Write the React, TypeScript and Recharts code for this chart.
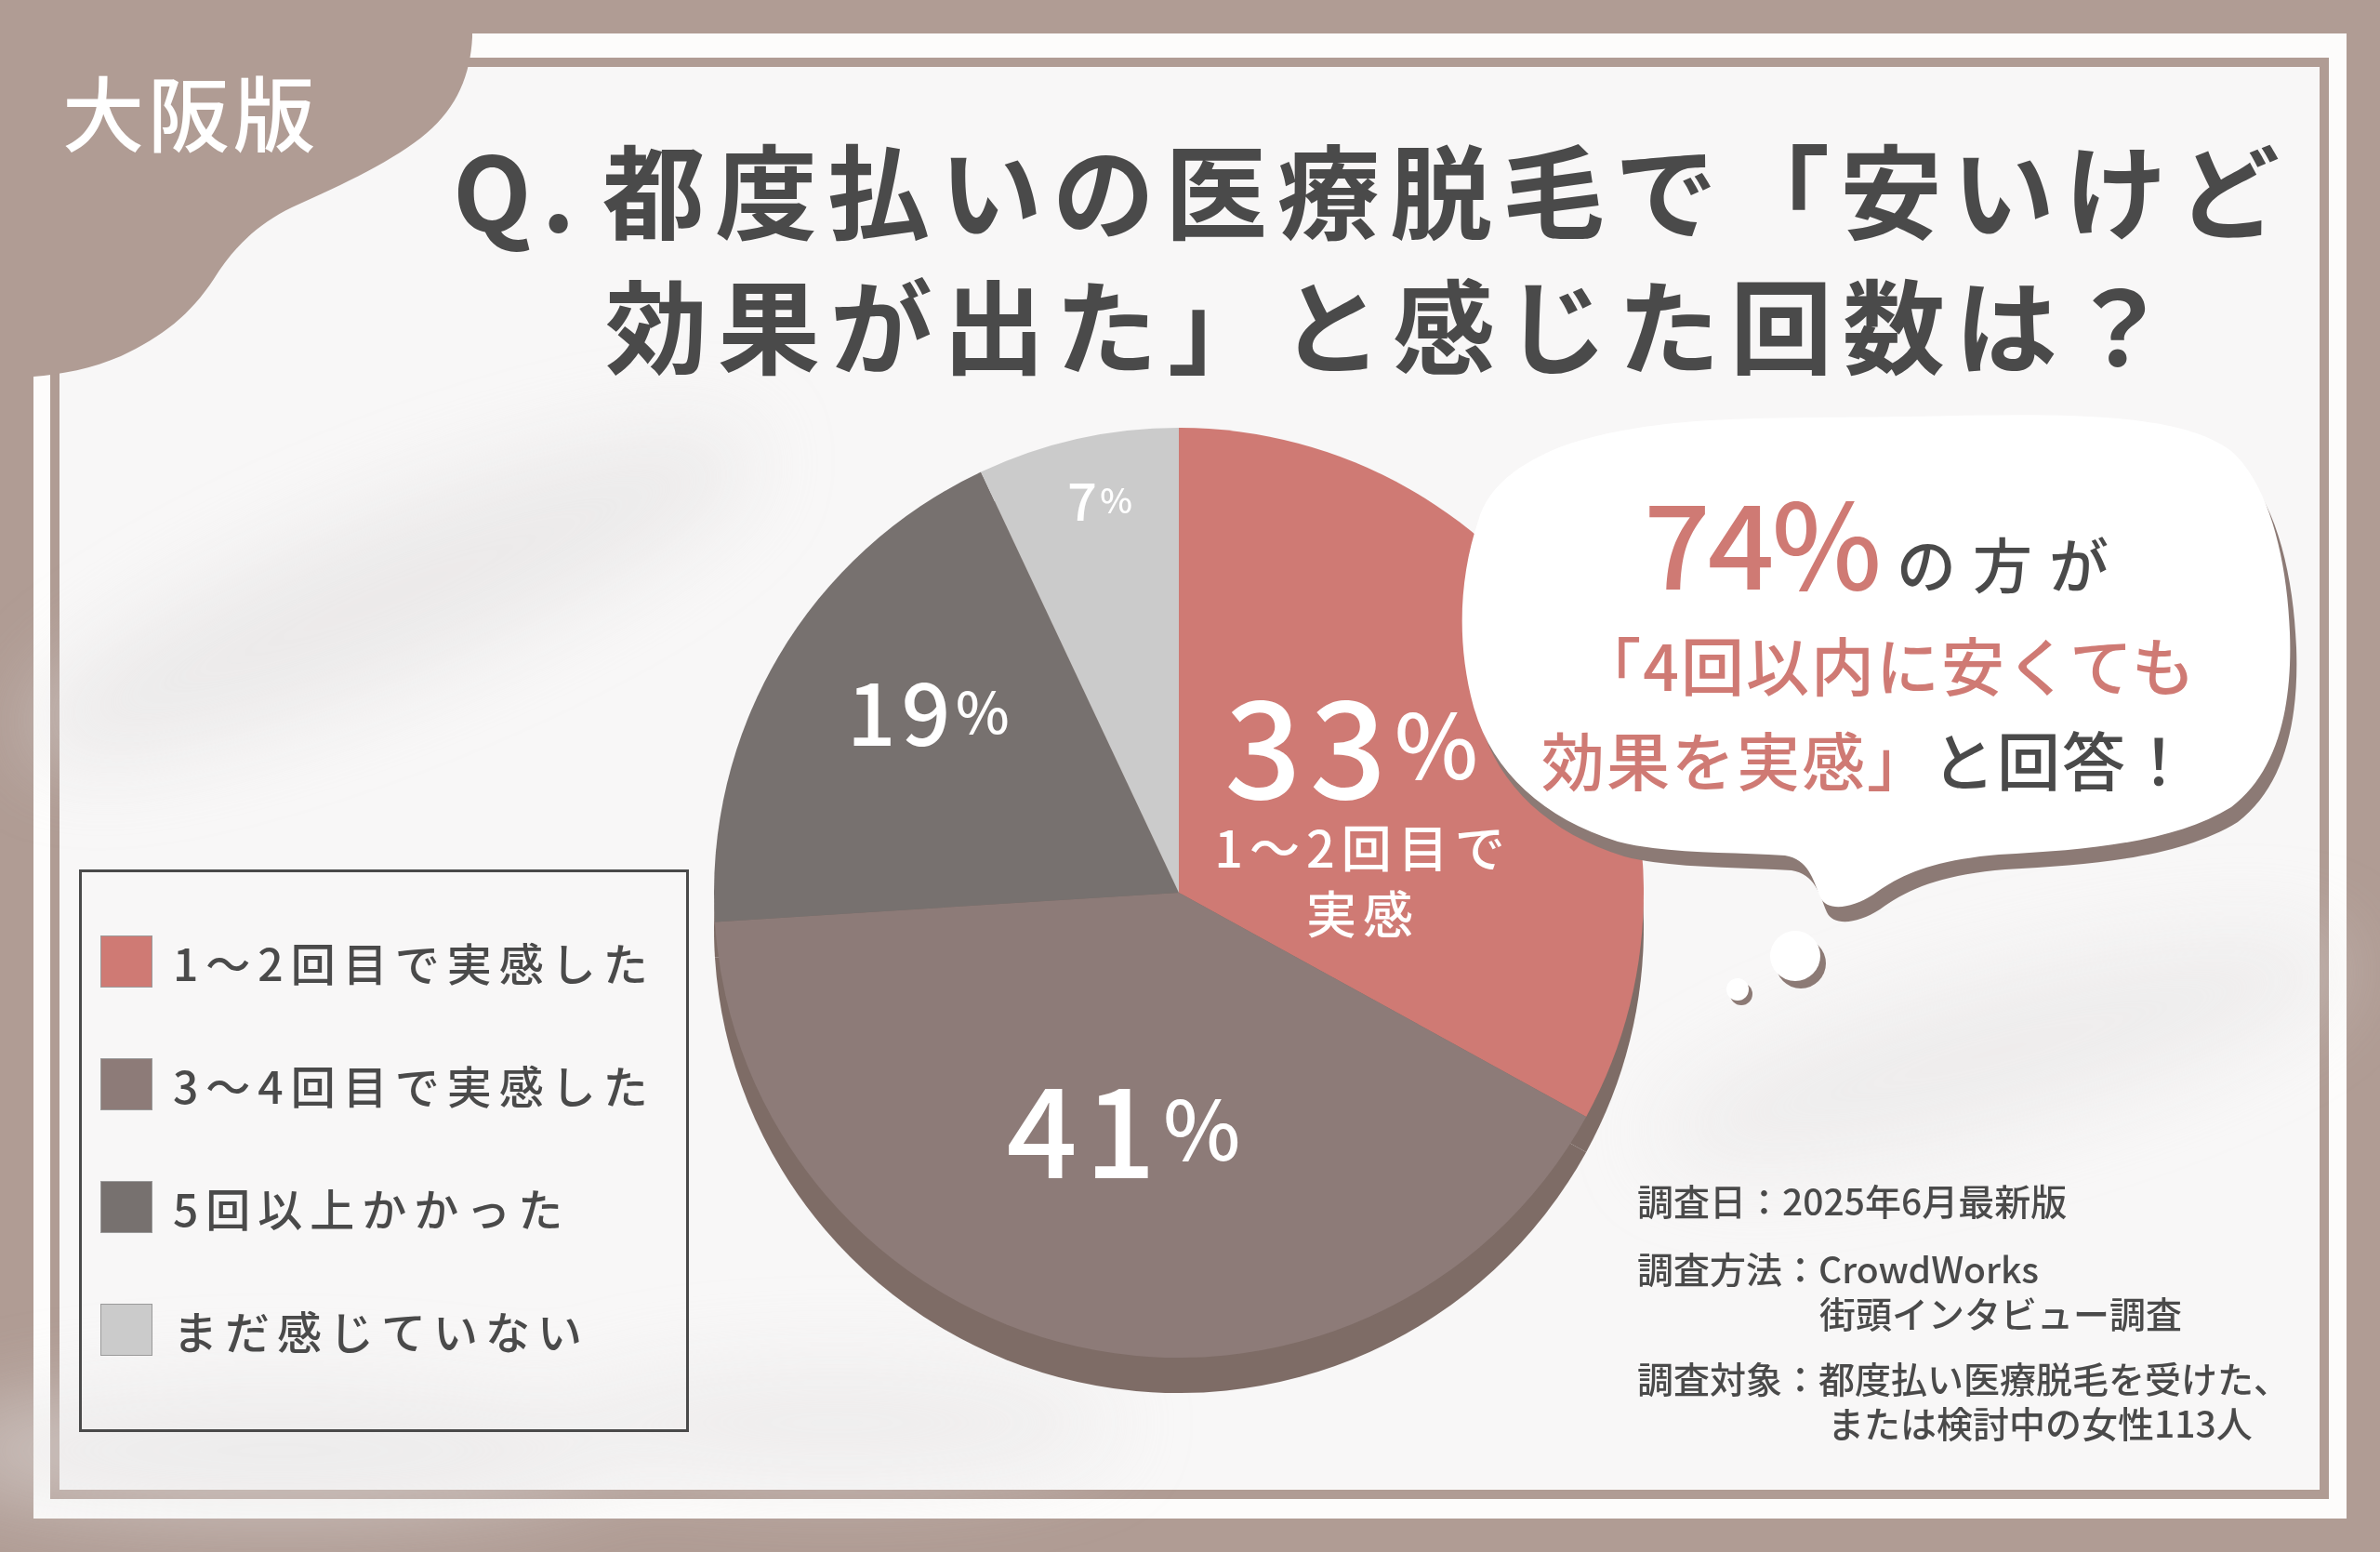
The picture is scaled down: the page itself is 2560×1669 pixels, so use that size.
import { PieChart, Pie, Cell, Legend } from "recharts";

// survey answers (share of respondents, %)
const categories = ["1～2回目で実感した", "3～4回目で実感した", "5回以上かかった", "まだ感じていない"];
const shares = [33, 41, 19, 7];
const sliceNotes = [["1～2回目で", "実感"], [], [], []];

const topColors = ["#CF7A74", "#8D7B78", "#77716F", "#CBCBCB"];
const SIDE = "#7E6C66";

// label placement / size per slice (style only)
const labelRadius = [0.46, 0.51, 0.665, 0.865];
const labelTurn = [0, 0, -6, -1.5];
const labelSize = [145, 134, 93, 56];

const pieData = categories.map((name, i) => ({ name, value: shares[i] }));

const FONT = '"Noto Sans CJK JP", "Noto Sans", sans-serif';
const BROWN = "#B09C94";
const INK = "#4A4A4A";
const SALMON = "#CF7A74";
const RAD = Math.PI / 180;

const renderLabel = (p: any) => {
  const { cx, cy, midAngle, outerRadius, index } = p;
  const r = outerRadius * labelRadius[index];
  const a = (midAngle + labelTurn[index]) * RAD;
  const x = cx + r * Math.cos(-a);
  const y = cy + r * Math.sin(-a);
  const size = labelSize[index];
  const notes = sliceNotes[index];
  const bigY = notes.length ? y - 47 : y;
  return (
    <g>
      <text
        x={x - (notes.length ? 8 : 0)}
        y={bigY}
        textAnchor="middle"
        dominantBaseline="central"
        fill="#FFFFFF"
        fontFamily={FONT}
        fontWeight={500}
        fontSize={size}
        letterSpacing={size * 0.06}
      >
        {shares[index]}
        <tspan fontSize={size * 0.66}>%</tspan>
      </text>
      {notes.map((line, k) => (
        <text
          key={line}
          x={x}
          y={y + 67 + k * 71}
          textAnchor="middle"
          dominantBaseline="central"
          fill="#FFFFFF"
          fontFamily={FONT}
          fontWeight={500}
          fontSize={54}
          letterSpacing={7}
        >
          {line}
        </text>
      ))}
    </g>
  );
};

const renderLegend = (props: any) => {
  const { payload = [] } = props;
  const seen = new Set<string>();
  const items = payload.filter((e: any) => {
    if (seen.has(e.value)) return false;
    seen.add(e.value);
    return true;
  });
  return (
    <div
      style={{
        width: 656,
        height: 605,
        boxSizing: "border-box",
        border: `3px solid ${INK}`,
        paddingTop: 30,
        paddingLeft: 20,
        fontFamily: FONT,
      }}
    >
      {items.map((entry: any) => {
        const i = categories.indexOf(entry.value);
        return (
          <div key={entry.value} style={{ display: "flex", alignItems: "center", height: 132 }}>
            <span
              style={{
                width: 56,
                height: 56,
                boxSizing: "border-box",
                border: "1px solid #9A9A9A",
                background: topColors[i],
                marginRight: 22,
              }}
            />
            <span style={{ fontSize: 48, letterSpacing: 8, color: INK, fontWeight: 500 }}>{entry.value}</span>
          </div>
        );
      })}
    </div>
  );
};

const bubblePath =
  "M 1590 560 C 1570 620, 1566 690, 1585 760 C 1605 830, 1660 880, 1740 905 " +
  "C 1790 918, 1860 916, 1920 920 C 1945 924, 1950 945, 1958 965 C 1965 980, 1990 978, 2015 962 " +
  "C 2045 940, 2080 925, 2150 919 C 2250 914, 2340 905, 2400 868 C 2450 830, 2466 760, 2463 680 " +
  "C 2460 600, 2440 520, 2400 485 C 2340 440, 2200 445, 2050 448 C 1900 450, 1780 445, 1680 480 " +
  "C 1630 500, 1600 525, 1590 560 Z";

const cornerPath =
  "M 0 0 H 508 V 40 C 506 80, 492 115, 459 143 C 425 172, 370 198, 314 223 " +
  "C 275 242, 250 268, 230 300 C 205 338, 175 362, 130 383 C 100 396, 65 403, 36 405 H 0 Z";

const footnotes = [
  { x: 1761, y: 1290, text: "調査日：2025年6月最新版" },
  { x: 1761, y: 1363, text: "調査方法：CrowdWorks" },
  { x: 1957, y: 1411, text: "街頭インタビュー調査" },
  { x: 1761, y: 1481, text: "調査対象：都度払い医療脱毛を受けた、" },
  { x: 1966, y: 1529, text: "または検討中の女性113人" },
];

function Backdrop() {
  return (
    <svg width={2560} height={1669} style={{ position: "absolute", left: 0, top: 0 }}>
      <defs>
        <filter id="soft" x="-50%" y="-50%" width="200%" height="200%">
          <feGaussianBlur stdDeviation="45" />
        </filter>
      </defs>
      <rect x={0} y={0} width={2560} height={1669} fill={BROWN} />
      <rect x={36} y={36} width={2488} height={1597} fill="#FDFCFB" />
      <rect x={59} y={67} width={2441} height={1540} fill="none" stroke={BROWN} strokeWidth={10} />
      <rect x={64} y={72} width={2431} height={1529} fill="#F8F7F7" />
      <g filter="url(#soft)" opacity={0.55}>
        <ellipse cx={420} cy={640} rx={420} ry={90} fill="#E2E0E0" transform="rotate(-22 420 640)" />
        <ellipse cx={300} cy={1560} rx={380} ry={70} fill="#E4E2E2" />
        <ellipse cx={2150} cy={1130} rx={380} ry={80} fill="#E6E4E4" transform="rotate(-15 2150 1130)" />
        <ellipse cx={900} cy={1530} rx={300} ry={60} fill="#E6E4E4" />
      </g>
      <path d={cornerPath} fill={BROWN} />
      <text x={67} y={156} fill="#FFFFFF" fontFamily={FONT} fontWeight={500} fontSize={88} letterSpacing={4}>
        大阪版
      </text>
      <g fill={INK} fontFamily={FONT} fontWeight={700} fontSize={110} letterSpacing={11}>
        <text x={487} y={249}>Q.</text>
        <text x={648} y={249}>都度払いの医療脱毛で「安いけど</text>
        <text x={651} y={394}>効果が出た」と感じた回数は？</text>
      </g>
    </svg>
  );
}

function Overlay() {
  return (
    <svg width={2560} height={1669} style={{ position: "absolute", left: 0, top: 0, pointerEvents: "none" }}>
      <g fill="#8C7A75">
        <path d={bubblePath} transform="translate(7 16)" />
        <circle cx={1937} cy={1036} r={27} />
        <circle cx={1873} cy={1069} r={12} />
      </g>
      <g fill="#FFFFFF">
        <path d={bubblePath} />
        <circle cx={1931} cy={1028} r={27} />
        <circle cx={1869} cy={1064} r={12} />
      </g>
      <text x={1768} y={634} fill={SALMON} fontFamily={FONT} fontWeight={500} fontSize={126} letterSpacing={-3}>
        74%
      </text>
      <text x={2040} y={632} fill={INK} fontFamily={FONT} fontWeight={500} fontSize={64} letterSpacing={18}>
        の方が
      </text>
      <text
        x={2030}
        y={743}
        textAnchor="middle"
        fill={SALMON}
        fontFamily={FONT}
        fontWeight={500}
        fontSize={68}
        letterSpacing={2}
      >
        「4回以内に安くても
      </text>
      <text
        x={2008}
        y={845}
        textAnchor="middle"
        fontFamily={FONT}
        fontWeight={500}
        fontSize={68}
        letterSpacing={2}
      >
        <tspan fill={SALMON}>効果を実感」</tspan>
        <tspan fill={INK}>と回答！</tspan>
      </text>
      <g fill={INK} fontFamily={FONT} fontWeight={500} fontSize={39}>
        {footnotes.map((f) => (
          <text key={f.text} x={f.x} y={f.y} dominantBaseline="central">
            {f.text}
          </text>
        ))}
      </g>
    </svg>
  );
}

export default function App() {
  return (
    <div
      style={{
        position: "absolute",
        left: 0,
        top: 0,
        width: 2560,
        height: 1669,
        overflow: "hidden",
        fontFamily: FONT,
      }}
    >
      <Backdrop />
      <div style={{ position: "absolute", left: 0, top: 0 }}>
        <PieChart width={2560} height={1669} margin={{ top: 0, right: 0, bottom: 0, left: 0 }}>
          <Pie
            data={pieData}
            dataKey="value"
            nameKey="name"
            cx={1268}
            cy={998}
            outerRadius={500}
            startAngle={90}
            endAngle={-270}
            stroke="none"
            fill={SIDE}
            legendType="none"
            isAnimationActive={false}
          >
            {pieData.map((d) => (
              <Cell key={`side-${d.name}`} fill={SIDE} />
            ))}
          </Pie>
          <Pie
            data={pieData}
            dataKey="value"
            nameKey="name"
            cx={1268}
            cy={960}
            outerRadius={500}
            startAngle={90}
            endAngle={-270}
            stroke="none"
            label={renderLabel}
            labelLine={false}
            isAnimationActive={false}
          >
            {pieData.map((d, i) => (
              <Cell key={`top-${d.name}`} fill={topColors[i]} />
            ))}
          </Pie>
          <Legend
            layout="vertical"
            align="center"
            verticalAlign="middle"
            content={renderLegend}
            wrapperStyle={{ left: 85, top: 935, width: 656, height: 605 }}
          />
        </PieChart>
      </div>
      <Overlay />
    </div>
  );
}
